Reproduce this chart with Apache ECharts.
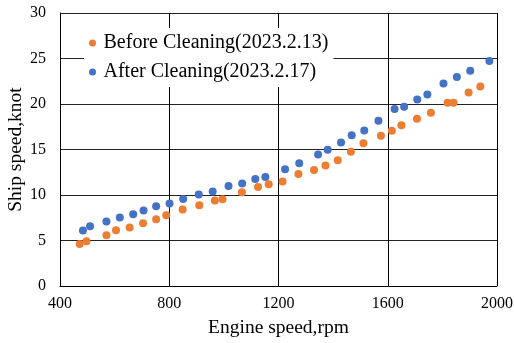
<!DOCTYPE html>
<html>
<head>
<meta charset="utf-8">
<script src="https://cdn.jsdelivr.net/npm/echarts@6/dist/echarts.min.js"></script>
<style>
  html, body { margin: 0; padding: 0; background: #fff; }
  #chart { width: 514px; height: 343px; }
</style>
</head>
<body>
<div id="chart"></div>
<script>
// before cleaning (2023.2.13)
const beforeRpm = [472, 497, 570, 605, 655, 704, 752, 789, 849, 910, 967, 995, 1066, 1125, 1164, 1215,
  1273, 1330, 1372, 1417, 1465, 1511, 1575, 1615, 1650, 1707, 1758, 1819, 1841, 1896, 1939];
const beforeSpeed = [4.62, 4.91, 5.57, 6.12, 6.42, 6.89, 7.33, 7.77, 8.40, 8.87, 9.39, 9.53, 10.30, 10.89, 11.18, 11.48,
  12.32, 12.76, 13.24, 13.82, 14.74, 15.69, 16.50, 17.05, 17.67, 18.37, 19.03, 20.13, 20.13, 21.27, 21.93];

// after cleaning (2023.2.17)
const afterRpm = [484, 510, 570, 619, 668, 706, 752, 801, 851, 908, 959, 1017, 1067, 1115, 1152, 1224,
  1276, 1345, 1380, 1429, 1468, 1514, 1566, 1625, 1660, 1708, 1745, 1804, 1853, 1902, 1972];
const afterSpeed = [6.09, 6.56, 7.08, 7.52, 7.88, 8.29, 8.76, 9.06, 9.57, 10.05, 10.38, 11.00, 11.26, 11.77, 11.99, 12.83,
  13.49, 14.45, 14.96, 15.77, 16.57, 17.09, 18.15, 19.44, 19.69, 20.50, 21.05, 22.26, 22.96, 23.65, 24.72];

const seriesNames = ["Before Cleaning(2023.2.13)", "After Cleaning(2023.2.17)"];

const FONT = "'Liberation Serif', 'Times New Roman', serif";
const toPairs = (xs, ys) => xs.map((x, i) => [x, ys[i]]);

const chart = echarts.init(document.getElementById("chart"), null, { renderer: "canvas" });

chart.setOption({
  animation: false,
  backgroundColor: "#fff",
  textStyle: { fontFamily: FONT, color: "#000" },
  grid: { left: 60, right: 17, top: 13, bottom: 57, containLabel: false, outerBoundsMode: "none" },
  legend: {
    orient: "vertical",
    left: 84,
    top: 28,
    padding: 5,
    itemGap: 9,
    itemWidth: 12,
    itemHeight: 7,
    backgroundColor: "#fff",
    textStyle: { fontFamily: FONT, fontSize: 20, color: "#000" },
    data: seriesNames.map((n) => ({ name: n, icon: "circle" })),
  },
  xAxis: {
    type: "value",
    min: 400,
    max: 2000,
    interval: 400,
    name: "Engine speed,rpm",
    nameLocation: "middle",
    nameGap: 32,
    nameTextStyle: { fontFamily: FONT, fontSize: 19.5, color: "#000" },
    axisLine: { show: true, lineStyle: { color: "#000", width: 1 } },
    axisTick: { show: false },
    axisLabel: { fontFamily: FONT, fontSize: 16, color: "#000", margin: 10, formatter: (v) => String(v) },
    splitLine: { show: true, lineStyle: { color: "#000", width: 1 } },
  },
  yAxis: {
    type: "value",
    min: 0,
    max: 30,
    interval: 5,
    name: "Ship speed,knot",
    nameLocation: "middle",
    nameGap: 34,
    nameMoveOverlap: false,
    nameTextStyle: { fontFamily: FONT, fontSize: 19.5, color: "#000" },
    axisLine: { show: true, lineStyle: { color: "#000", width: 1 } },
    axisTick: { show: false },
    axisLabel: { fontFamily: FONT, fontSize: 16, color: "#000", margin: 14 },
    splitLine: { show: true, lineStyle: { color: "#222", width: 1 } },
  },
  series: [
    {
      name: seriesNames[0],
      type: "scatter",
      symbol: "circle",
      symbolSize: 8,
      itemStyle: { color: "#ED7D31", opacity: 1 },
      data: toPairs(beforeRpm, beforeSpeed),
    },
    {
      name: seriesNames[1],
      type: "scatter",
      symbol: "circle",
      symbolSize: 8,
      itemStyle: { color: "#4472C4", opacity: 1 },
      data: toPairs(afterRpm, afterSpeed),
    },
  ],
});
</script>
</body>
</html>
